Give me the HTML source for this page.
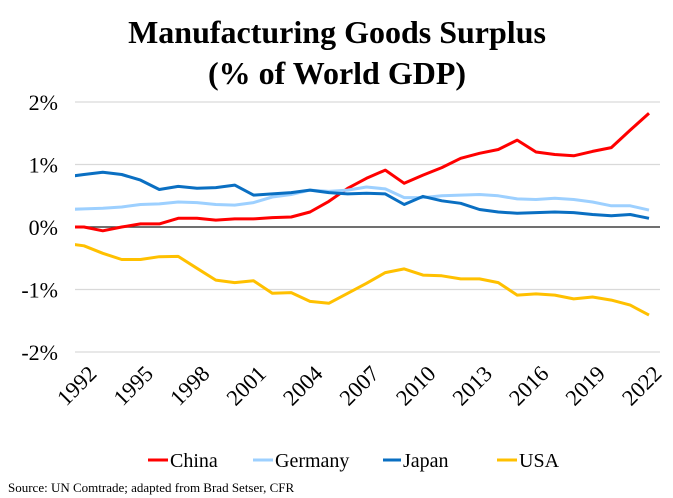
<!DOCTYPE html>
<html><head><meta charset="utf-8"><style>
body{margin:0;background:#fff;}
svg{display:block;font-family:"Liberation Serif",serif;}
</style></head><body>
<svg id="chart" width="673" height="498">
<text x="337" y="43" text-anchor="middle" font-size="32" font-weight="bold">Manufacturing Goods Surplus</text>
<text x="337" y="84" text-anchor="middle" font-size="32" font-weight="bold">(% of World GDP)</text>
<defs><clipPath id="plotclip"><rect x="75" y="90" width="585" height="280"/></clipPath></defs>
<g id="grid"></g><g id="lines" clip-path="url(#plotclip)"></g><g id="xlabels"></g>
<g>
<g><line x1="148" y1="460" x2="168" y2="460" stroke="#ff0000" stroke-width="3"/><text x="170" y="467" font-size="20">China</text></g>
<g><line x1="253" y1="460" x2="273" y2="460" stroke="#9dd0ff" stroke-width="3"/><text x="275" y="467" font-size="20">Germany</text></g>
<g><line x1="383" y1="460" x2="401" y2="460" stroke="#0a6fc2" stroke-width="3"/><text x="403" y="467" font-size="20">Japan</text></g>
<g><line x1="497" y1="460" x2="517" y2="460" stroke="#ffc000" stroke-width="3"/><text x="519" y="467" font-size="20">USA</text></g>
</g>
<text x="8" y="492" font-size="13">Source: UN Comtrade; adapted from Brad Setser, CFR</text>
</svg>
<script>
const years = [1991,1992,1993,1994,1995,1996,1997,1998,1999,2000,2001,2002,2003,2004,2005,2006,2007,2008,2009,2010,2011,2012,2013,2014,2015,2016,2017,2018,2019,2020,2021,2022];
const china = [0,0,-0.06,0,0.05,0.05,0.14,0.14,0.11,0.13,0.13,0.15,0.16,0.24,0.41,0.62,0.78,0.91,0.70,0.83,0.95,1.10,1.18,1.24,1.39,1.20,1.16,1.14,1.21,1.27,1.55,1.82];
const germany = [0.28,0.29,0.30,0.32,0.36,0.37,0.40,0.39,0.36,0.35,0.39,0.48,0.52,0.59,0.57,0.59,0.64,0.61,0.47,0.47,0.50,0.51,0.52,0.50,0.45,0.44,0.46,0.44,0.40,0.34,0.34,0.27];
const japan = [0.80,0.84,0.875,0.84,0.75,0.60,0.65,0.62,0.63,0.67,0.51,0.53,0.55,0.59,0.55,0.53,0.54,0.53,0.36,0.49,0.42,0.38,0.28,0.24,0.22,0.23,0.24,0.23,0.20,0.18,0.20,0.14];
const usa = [-0.26,-0.30,-0.42,-0.52,-0.52,-0.475,-0.47,-0.66,-0.85,-0.89,-0.86,-1.06,-1.05,-1.19,-1.22,-1.06,-0.90,-0.73,-0.67,-0.77,-0.78,-0.83,-0.83,-0.89,-1.09,-1.07,-1.09,-1.15,-1.12,-1.17,-1.25,-1.41];
const yTicks = [2,1,0,-1,-2];
const yTickLabels = ["2%","1%","0%","-1%","-2%"];
const xTickYears = [1992,1995,1998,2001,2004,2007,2010,2013,2016,2019,2022];

const NS="http://www.w3.org/2000/svg";
function xScale(yr){return 84+(yr-1992)*(649-84)/30;}
function yScale(v){return 227-v*62.5;}
function mk(tag,attrs,parent){const e=document.createElementNS(NS,tag);for(const k in attrs)e.setAttribute(k,attrs[k]);parent.appendChild(e);return e;}
const grid=document.getElementById('grid');
yTicks.forEach((t,i)=>{
  const l=mk('line',{x1:75,x2:660,y1:yScale(t),y2:yScale(t),stroke:t===0?'#404040':'#d9d9d9','stroke-width':t===0?1.5:1.2},grid);
  
  
  const tx=mk('text',{x:58,y:yScale(t)+8,'text-anchor':'end','font-size':22},grid);
  tx.textContent=yTickLabels[i];
  
  
});
const xl=document.getElementById('xlabels');
xTickYears.forEach(y=>{
  const x=xScale(y)+14, yy=375;
  const t=mk('text',{x:x,y:yy,'text-anchor':'end','font-size':22.5,transform:`rotate(-45 ${x} ${yy})`},xl);
  t.textContent=String(y);
  
  
});
const lines=document.getElementById('lines');
[[china,'#ff0000','china-line'],[germany,'#9dd0ff','germany-line'],[japan,'#0a6fc2','japan-line'],[usa,'#ffc000','usa-line']].forEach(([d,c,n])=>{
  const pts=d.map((v,i)=>xScale(years[i]).toFixed(1)+','+yScale(v).toFixed(1)).join(' ');
  const p=mk('polyline',{points:pts,fill:'none',stroke:c,'stroke-width':3,'stroke-linejoin':'round'},lines);
  
  
});
</script>
</body></html>
